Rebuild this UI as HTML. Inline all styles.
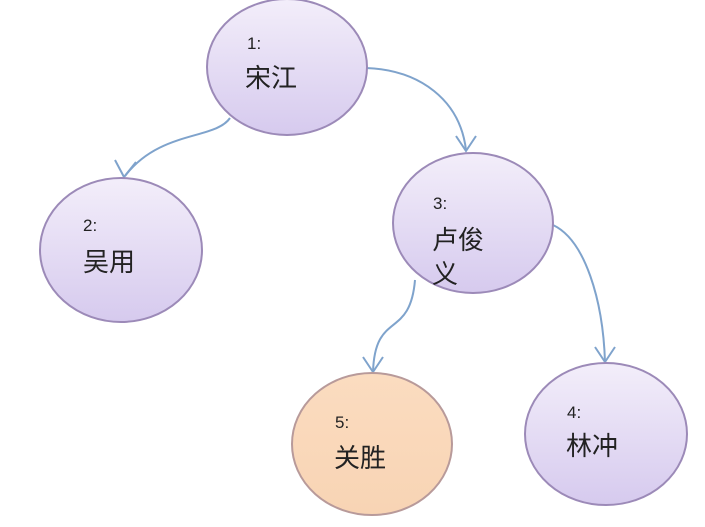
<!DOCTYPE html>
<html><head><meta charset="utf-8"><style>
html,body{margin:0;padding:0;background:#fff;}
svg{display:block;}
text{font-family:"Liberation Sans","Noto Sans CJK SC",sans-serif;fill:#222;}
.n{font-size:17px;}
.c{font-size:26px;}
</style></head><body>
<svg width="705" height="527" viewBox="0 0 705 527" xmlns="http://www.w3.org/2000/svg">
<defs>
<linearGradient id="p" x1="0" y1="0" x2="0" y2="1">
<stop offset="0" stop-color="#f3eefa"/><stop offset="1" stop-color="#d6caee"/>
</linearGradient>
<linearGradient id="o" x1="0" y1="0" x2="0" y2="1">
<stop offset="0" stop-color="#fbdcc0"/><stop offset="1" stop-color="#f8d4b4"/>
</linearGradient>
</defs>
<g fill="none" stroke="#7fa3cc" stroke-width="2">
<path d="M230,118 C215,140 160,130 125,176"/>
<path d="M115,160 L124,177 L136,162"/>
<path d="M366,68 C420,70 460,100 466,150"/>
<path d="M456,136 L466,151 L476,136"/>
<path d="M415,280 C410,340 375,310 373,372"/>
<path d="M363,357 L373,372 L383,357"/>
<path d="M553,225 C585,240 603,300 605,362"/>
<path d="M595,347 L605,362 L615,347"/>
</g>
<g stroke="#9c8ab8" stroke-width="2">
<ellipse cx="287" cy="67" rx="80" ry="68" fill="url(#p)"/>
<ellipse cx="121" cy="250" rx="81" ry="72" fill="url(#p)"/>
<ellipse cx="473" cy="223" rx="80" ry="70" fill="url(#p)"/>
<ellipse cx="372" cy="444" rx="80" ry="71" fill="url(#o)" stroke="#b89a9a"/>
<ellipse cx="606" cy="434" rx="81" ry="71" fill="url(#p)"/>
</g>
<text class="n" x="247" y="49">1:</text>
<text class="c" x="245" y="87">宋江</text>
<text class="n" x="83" y="231">2:</text>
<text class="c" x="83" y="271">吴用</text>
<text class="n" x="433" y="209">3:</text>
<text class="c" x="432" y="249">卢俊</text>
<text class="c" x="432" y="283">义</text>
<text class="n" x="335" y="428">5:</text>
<text class="c" x="334" y="467">关胜</text>
<text class="n" x="567" y="418">4:</text>
<text class="c" x="566" y="455">林冲</text>
</svg>
</body></html>
